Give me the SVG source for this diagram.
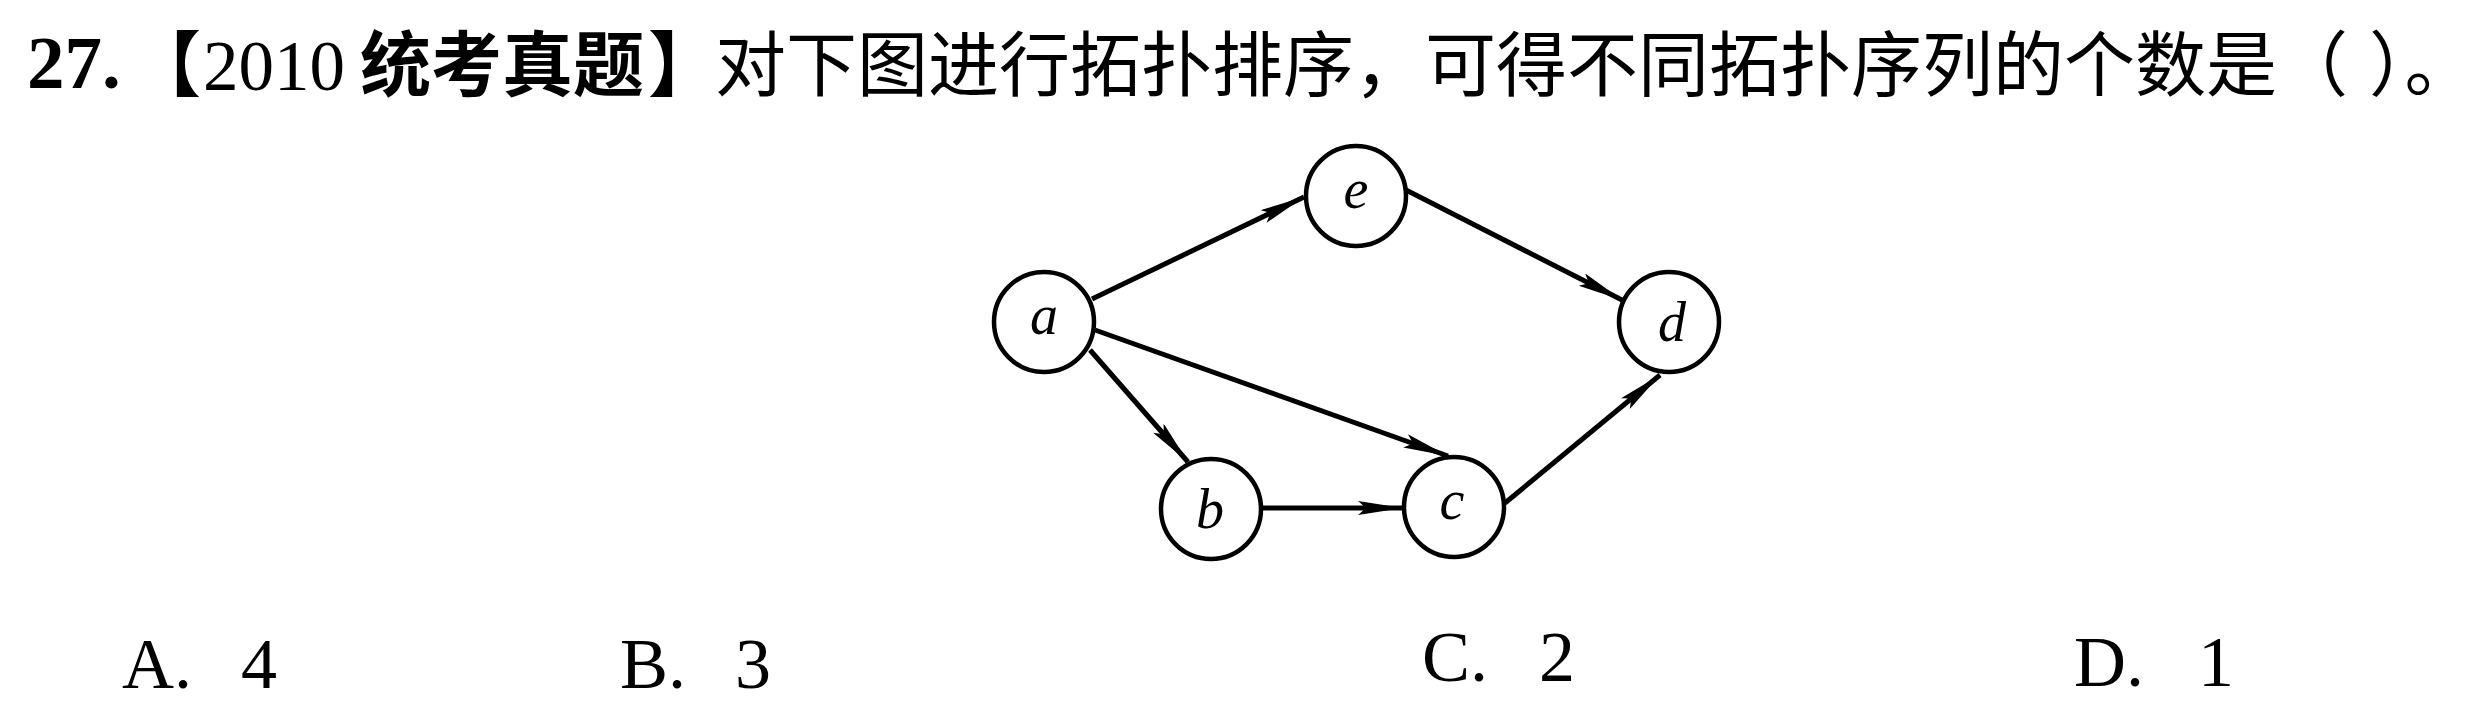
<svg xmlns="http://www.w3.org/2000/svg" width="2478" height="710" viewBox="0 0 2478 710">
<style>
.node{fill:#fff;stroke:#000;stroke-width:4.5}
.lbl{font-family:"Liberation Serif",serif;font-style:italic;font-size:56px;fill:#000;text-anchor:middle}
.edge{stroke:#000;stroke-width:5;fill:none;marker-end:url(#arr)}
.cjk{font-family:"Noto Sans CJK SC",sans-serif;font-size:71px;fill:#000}
.opt{font-family:"Liberation Serif",serif;font-size:72px;fill:#000}
</style>
<defs>
<marker id="arr" markerUnits="userSpaceOnUse" markerWidth="48" markerHeight="16" refX="45" refY="7" orient="auto">
<path d="M0,0 L45,7 L0,14 L8,7 z" fill="#000"/>
</marker>
</defs>
<rect width="2478" height="710" fill="#fff"/>
<g id="title">
<text x="27" y="88" font-family="Liberation Serif,serif" font-weight="bold" font-size="75">27.</text>
<text x="130" y="90" class="cjk" font-weight="bold">【</text>
<text x="203" y="90" font-family="Liberation Serif,serif" font-size="71">2010</text>
<text x="360" y="90" class="cjk" font-weight="bold" font-size="72">统考真题</text>
<text x="648" y="90" class="cjk" font-weight="bold">】</text>
<text x="715" y="90" class="cjk">对下图进行拓扑排序，可得不同拓扑序列的个数是（</text>
<text x="2369" y="90" class="cjk">）。</text>
</g>
<g id="connectors">
<line class="edge" x1="1092" y1="299" x2="1304" y2="197"/>
<line class="edge" x1="1406" y1="190" x2="1622" y2="300"/>
<line class="edge" x1="1095" y1="330" x2="1448" y2="456"/>
<line class="edge" x1="1090" y1="350" x2="1188" y2="462"/>
<line class="edge" x1="1263" y1="508" x2="1403" y2="508"/>
<line class="edge" x1="1505" y1="503" x2="1660" y2="375"/>
</g>
<g id="node-a"><circle class="node" cx="1044" cy="322" r="50"/><text class="lbl" x="1044" y="334">a</text></g>
<g id="node-e"><circle class="node" cx="1356" cy="196" r="50"/><text class="lbl" x="1356" y="208">e</text></g>
<g id="node-d"><circle class="node" cx="1669" cy="322" r="50"/><text class="lbl" x="1672" y="341">d</text></g>
<g id="node-b"><circle class="node" cx="1211" cy="509" r="50"/><text class="lbl" x="1210" y="528">b</text></g>
<g id="node-c"><circle class="node" cx="1454" cy="507" r="50"/><text class="lbl" x="1452" y="519">c</text></g>
<g id="options">
<text class="opt" x="122" y="688">A.</text><text class="opt" x="241" y="688">4</text>
<text class="opt" x="620" y="688">B.</text><text class="opt" x="735" y="688">3</text>
<text class="opt" x="1422" y="681">C.</text><text class="opt" x="1539" y="681">2</text>
<text class="opt" x="2074" y="686">D.</text><text class="opt" x="2198" y="686">1</text>
</g>
</svg>
